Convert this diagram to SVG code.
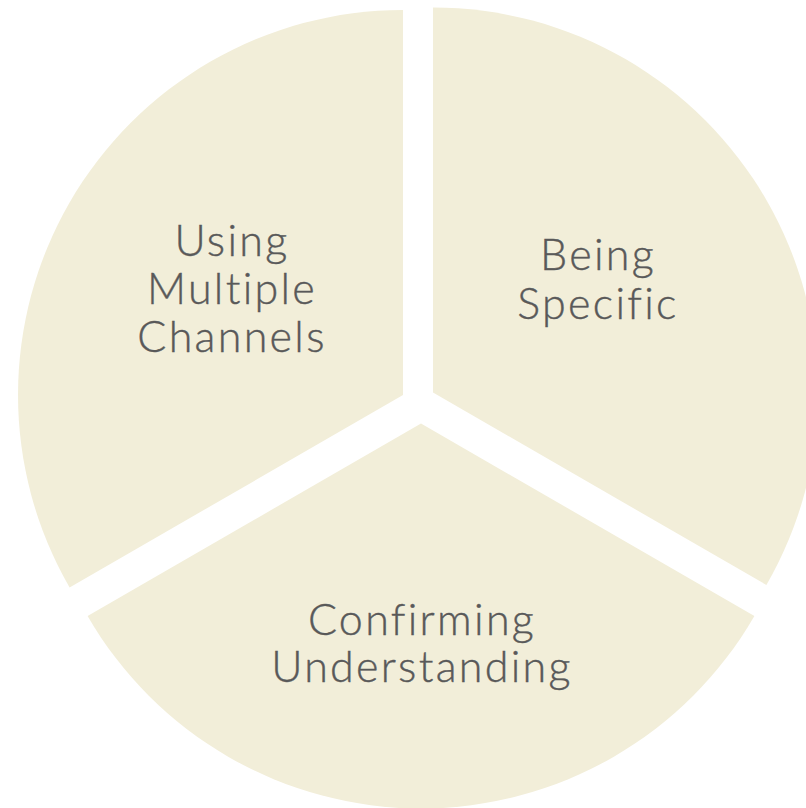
<svg xmlns="http://www.w3.org/2000/svg" width="806" height="808" viewBox="0 0 806 808">
  <style>
    .slice { fill: #F2EED9; }
    .label { font-family: Lato, "Open Sans", "Liberation Sans", sans-serif; font-size: 43px; font-weight: 300; fill: #595959; stroke: #595959; stroke-width: 0.4px; text-anchor: middle; letter-spacing: 2.3px; }
  </style>
  <rect width="806" height="808" fill="#FFFFFF"/>
  <!-- Exploded pie: three 120-degree slices of radius 385, each pushed out from the centre -->
  <g id="slice-channels">
    <path class="slice" d="M403 395 L403 10 A385 385 0 0 0 69.6 587.5 Z"/>
    <text class="label" x="232" y="256">Using</text>
    <text class="label" x="232" y="304">Multiple</text>
    <text class="label" x="232" y="352">Channels</text>
  </g>
  <g id="slice-specific">
    <path class="slice" d="M433 392.5 L766.4 585 A385 385 0 0 0 433 7.5 Z"/>
    <text class="label" x="598" y="270">Being</text>
    <text class="label" x="598" y="319">Specific</text>
  </g>
  <g id="slice-understanding">
    <path class="slice" d="M421 423.5 L87.6 616 A385 385 0 0 0 754.4 616 Z"/>
    <text class="label" x="422" y="635">Confirming</text>
    <text class="label" x="422" y="682">Understanding</text>
  </g>
  <g id="connectors"/>
</svg>
